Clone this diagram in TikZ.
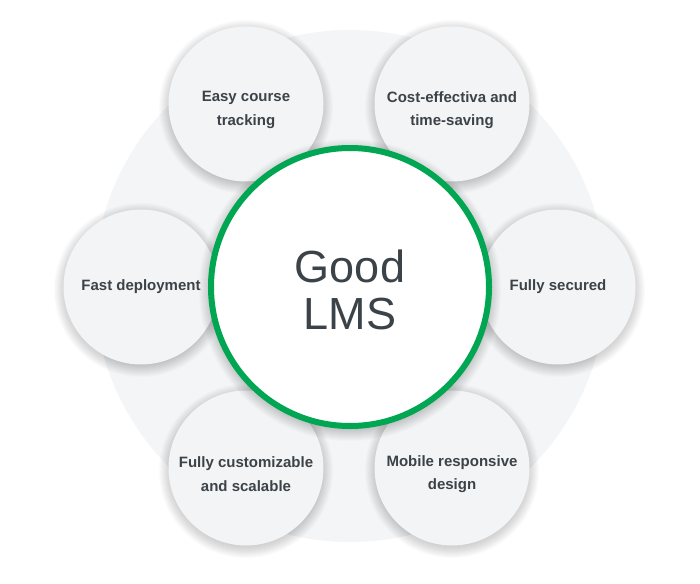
\documentclass[tikz,border=0pt]{standalone}
\usepackage{fontspec}
\setmainfont{Liberation Sans}
\definecolor{bgc}{HTML}{F4F5F7}
\definecolor{cfill}{HTML}{F3F4F6}
\definecolor{txt}{HTML}{3C4348}
\definecolor{lmsgreen}{HTML}{00A651}
\tikzset{
  bubble/.style={circle, fill=cfill, minimum size=155pt, inner sep=0pt, align=center,
    text=txt, font=\bfseries\fontsize{15}{23.5}\selectfont},
  label2/.style={text=txt, align=center, font=\bfseries\fontsize{15}{23.5}\selectfont},
  hub/.style={circle, fill=white, draw=lmsgreen, line width=6pt, minimum size=278pt, inner sep=0pt},
  hubtext/.style={text=txt, align=center, font=\fontsize{45}{47}\selectfont},
  disc/.style={circle, fill=bgc, minimum size=512pt, inner sep=0pt},
  shadelayer/.style={fill=black, fill opacity=0.015}
}
\newcommand\dropshade[3]{%
  \foreach \k in {0,...,15}{\fill[shadelayer] (#1,#2+3) circle[radius=#3pt+\k pt];}}
\begin{document}
\begin{tikzpicture}[x=1pt,y=-1pt]
\useasboundingbox (0,0) rectangle (700,583);
\node[disc] (bg) at (350,286) {};
\dropshade{246}{104}{72}
\dropshade{452}{104}{72}
\dropshade{141}{287}{72}
\dropshade{558}{287}{72}
\dropshade{246}{468}{72}
\dropshade{452}{468}{72}
\node[bubble] (tl) at (246,104) {};
\node[bubble] (tr) at (452,104) {};
\node[bubble] (l) at (141,287) {Fast deployment};
\node[bubble] (r) at (558,287) {Fully secured};
\node[bubble] (bl) at (246,468) {};
\node[bubble] (br) at (452,468) {};
\node[label2] (tlt) at (246,110) {Easy course\\tracking};
\node[label2] (trt) at (452,110) {Cost-effectiva and\\time-saving};
\node[label2] (blt) at (246,474) {Fully customizable\\and scalable};
\node[label2] (brt) at (452,474) {Mobile responsive\\design};
\dropshade{350}{287}{136}
\node[hub] (c) at (350,287) {};
\node[hubtext] (ct) at (350,290) {Good\\LMS};
\end{tikzpicture}
\end{document}
